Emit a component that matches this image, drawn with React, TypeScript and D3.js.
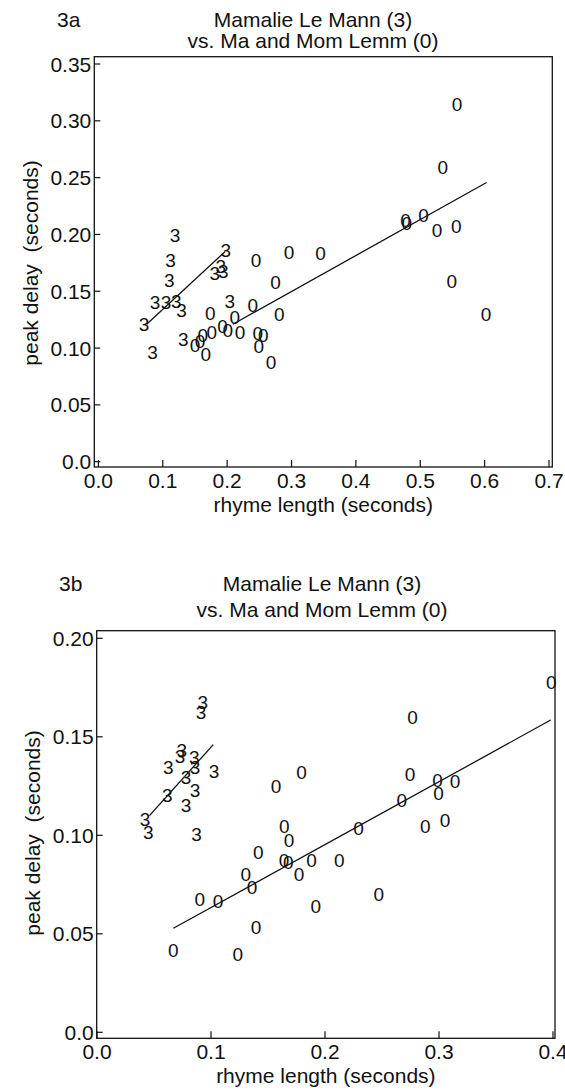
import React from "react";
import * as d3 from "d3";

// ---------- Panel 3a data (rhyme length s, peak delay s) ----------
const a_threes: [number, number][] = [
  [0.119, 0.199], [0.112, 0.177], [0.110, 0.160], [0.088, 0.140], [0.105, 0.140],
  [0.121, 0.141], [0.129, 0.133], [0.071, 0.121], [0.084, 0.096], [0.132, 0.108],
  [0.198, 0.186], [0.190, 0.172], [0.181, 0.166], [0.194, 0.168], [0.204, 0.141],
];
const a_zeros: [number, number][] = [
  [0.245, 0.177], [0.296, 0.184], [0.345, 0.1835], [0.275, 0.158], [0.240, 0.138],
  [0.281, 0.130], [0.174, 0.131], [0.212, 0.127], [0.220, 0.114], [0.201, 0.116],
  [0.193, 0.119], [0.176, 0.114], [0.162, 0.111], [0.158, 0.106], [0.150, 0.103],
  [0.167, 0.095], [0.2475, 0.113], [0.256, 0.111], [0.249, 0.102], [0.268, 0.088],
  [0.557, 0.315], [0.535, 0.259], [0.477, 0.213], [0.479, 0.210], [0.505, 0.217],
  [0.526, 0.204], [0.556, 0.207], [0.549, 0.159], [0.602, 0.130],
];
const a_fitThrees: [number, number][] = [[0.075, 0.121], [0.197, 0.185]];
const a_fitZeros: [number, number][] = [[0.209, 0.121], [0.603, 0.2457]];
const a_xTicks = [0, 0.1, 0.2, 0.3, 0.4, 0.5, 0.6, 0.7];
const a_xTickLabels = ["0.0", "0.1", "0.2", "0.3", "0.4", "0.5", "0.6", "0.7"];
const a_yTicks = [0, 0.05, 0.1, 0.15, 0.2, 0.25, 0.3, 0.35];
const a_yTickLabels = ["0.0", "0.05", "0.10", "0.15", "0.20", "0.25", "0.30", "0.35"];

// ---------- Panel 3b data ----------
const b_threes: [number, number][] = [
  [0.0927, 0.1678], [0.0912, 0.1627], [0.0743, 0.1432], [0.0728, 0.1403], [0.0854, 0.1398],
  [0.0626, 0.1347], [0.0860, 0.1344], [0.1026, 0.1327], [0.0781, 0.1293], [0.0860, 0.1229],
  [0.0617, 0.1203], [0.0781, 0.1153], [0.0421, 0.1080], [0.0450, 0.1017], [0.0874, 0.1008],
];
const b_zeros: [number, number][] = [
  [0.157, 0.125], [0.1643, 0.1044], [0.1685, 0.0975], [0.1415, 0.0913], [0.1640, 0.0873],
  [0.1678, 0.0864], [0.1306, 0.0805], [0.1361, 0.0739], [0.0901, 0.0677], [0.1061, 0.0666],
  [0.1395, 0.0536], [0.067, 0.0418], [0.1234, 0.0398], [0.3985, 0.1778], [0.2767, 0.1601],
  [0.1795, 0.1323], [0.2746, 0.1308], [0.2988, 0.1281], [0.3140, 0.1277], [0.2997, 0.1213],
  [0.2673, 0.1180], [0.2295, 0.1036], [0.2880, 0.1044], [0.3053, 0.1076], [0.1883, 0.0875],
  [0.2126, 0.0875], [0.1772, 0.0805], [0.2471, 0.0700], [0.1919, 0.0640],
];
const b_fitThrees: [number, number][] = [[0.046, 0.110], [0.102, 0.146]];
const b_fitZeros: [number, number][] = [[0.067, 0.0528], [0.398, 0.1585]];
const b_xTicks = [0, 0.1, 0.2, 0.3, 0.4];
const b_xTickLabels = ["0.0", "0.1", "0.2", "0.3", "0.4"];
const b_yTicks = [0, 0.05, 0.1, 0.15, 0.2];
const b_yTickLabels = ["0.0", "0.05", "0.10", "0.15", "0.20"];

const titleLine1 = "Mamalie Le Mann (3)";
const titleLine2 = "vs. Ma and Mom Lemm (0)";
const xLabel = "rhyme length (seconds)";
const yLabel = "peak delay\u00a0 (seconds)";

const FONT = "'Liberation Sans', Arial, Helvetica, sans-serif";
const INK = "#111";

type PanelProps = {
  tag: string;
  threes: [number, number][];
  zeros: [number, number][];
  fitThrees: [number, number][];
  fitZeros: [number, number][];
  xTicks: number[];
  xTickLabels: string[];
  yTicks: number[];
  yTickLabels: string[];
  xDomain: [number, number];
  xRange: [number, number];
  yDomain: [number, number];
  yRange: [number, number];
  frame: { left: number; right: number; top: number; bottom: number };
  title: { tagX: number; cx: number; y1: number; y2: number };
  yLabelPos: { x: number; y: number };
};

function Panel(p: PanelProps) {
  const x = d3.scaleLinear().domain(p.xDomain).range(p.xRange);
  const y = d3.scaleLinear().domain(p.yDomain).range(p.yRange);
  const line = d3
    .line<[number, number]>()
    .x((d) => x(d[0]))
    .y((d) => y(d[1]));
  const f = p.frame;
  const fcx = (f.left + f.right) / 2;
  return (
    <g fontFamily={FONT} fill={INK}>
      <text x={p.title.tagX} y={p.title.y1} fontSize={21}>{p.tag}</text>
      <text x={p.title.cx} y={p.title.y1} fontSize={21} textAnchor="middle">{titleLine1}</text>
      <text x={p.title.cx} y={p.title.y2} fontSize={21} textAnchor="middle">{titleLine2}</text>
      <rect x={f.left} y={f.top} width={f.right - f.left} height={f.bottom - f.top}
        fill="none" stroke={INK} strokeWidth={1.3} />
      {p.yTicks.map((t, i) => (
        <g key={"y" + i}>
          <line x1={f.left} x2={f.left + 6} y1={y(t)} y2={y(t)} stroke={INK} strokeWidth={1.2} />
          <text x={f.left - 3} y={y(t)} dy="0.36em" fontSize={21} textAnchor="end">{p.yTickLabels[i]}</text>
        </g>
      ))}
      {p.xTicks.map((t, i) => (
        <g key={"x" + i}>
          <line x1={x(t)} x2={x(t)} y1={f.bottom} y2={f.bottom - 7} stroke={INK} strokeWidth={1.2} />
          <text x={x(t)} y={f.bottom + 21} fontSize={21} textAnchor="middle">{p.xTickLabels[i]}</text>
        </g>
      ))}
      <text x={fcx} y={f.bottom + 45} fontSize={21} textAnchor="middle">{xLabel}</text>
      <text transform={`translate(${p.yLabelPos.x},${p.yLabelPos.y}) rotate(-90)`} fontSize={21}
        textAnchor="middle">{yLabel}</text>
      <path d={line(p.fitThrees) || ""} fill="none" stroke={INK} strokeWidth={1.3} />
      <path d={line(p.fitZeros) || ""} fill="none" stroke={INK} strokeWidth={1.3} />
      {p.threes.map((d, i) => (
        <text key={"t" + i} x={x(d[0])} y={y(d[1])} dy="0.36em" fontSize={19} textAnchor="middle">3</text>
      ))}
      {p.zeros.map((d, i) => (
        <text key={"z" + i} x={x(d[0])} y={y(d[1])} dy="0.36em" fontSize={19} textAnchor="middle">0</text>
      ))}
    </g>
  );
}

export default function App() {
  return (
    <svg width={565} height={1090} viewBox="0 0 565 1090"
      style={{ position: "absolute", left: 0, top: 0, display: "block", background: "#fff" }}>
      <rect x={0} y={0} width={565} height={1090} fill="#fff" />
      <Panel
        tag="3a"
        threes={a_threes}
        zeros={a_zeros}
        fitThrees={a_fitThrees}
        fitZeros={a_fitZeros}
        xTicks={a_xTicks}
        xTickLabels={a_xTickLabels}
        yTicks={a_yTicks}
        yTickLabels={a_yTickLabels}
        xDomain={[0, 0.7]}
        xRange={[98.4, 549]}
        yDomain={[0, 0.35]}
        yRange={[461.7, 64]}
        frame={{ left: 94.3, right: 552.3, top: 56.7, bottom: 467 }}
        title={{ tagX: 57, cx: 313, y1: 27, y2: 48 }}
        yLabelPos={{ x: 38, y: 263 }}
      />
      <Panel
        tag="3b"
        threes={b_threes}
        zeros={b_zeros}
        fitThrees={b_fitThrees}
        fitZeros={b_fitZeros}
        xTicks={b_xTicks}
        xTickLabels={b_xTickLabels}
        yTicks={b_yTicks}
        yTickLabels={b_yTickLabels}
        xDomain={[0, 0.4]}
        xRange={[97, 553]}
        yDomain={[0, 0.2]}
        yRange={[1032.3, 638.3]}
        frame={{ left: 96.7, right: 555, top: 630.7, bottom: 1038.3 }}
        title={{ tagX: 59, cx: 322, y1: 591, y2: 617 }}
        yLabelPos={{ x: 40, y: 833 }}
      />
    </svg>
  );
}
